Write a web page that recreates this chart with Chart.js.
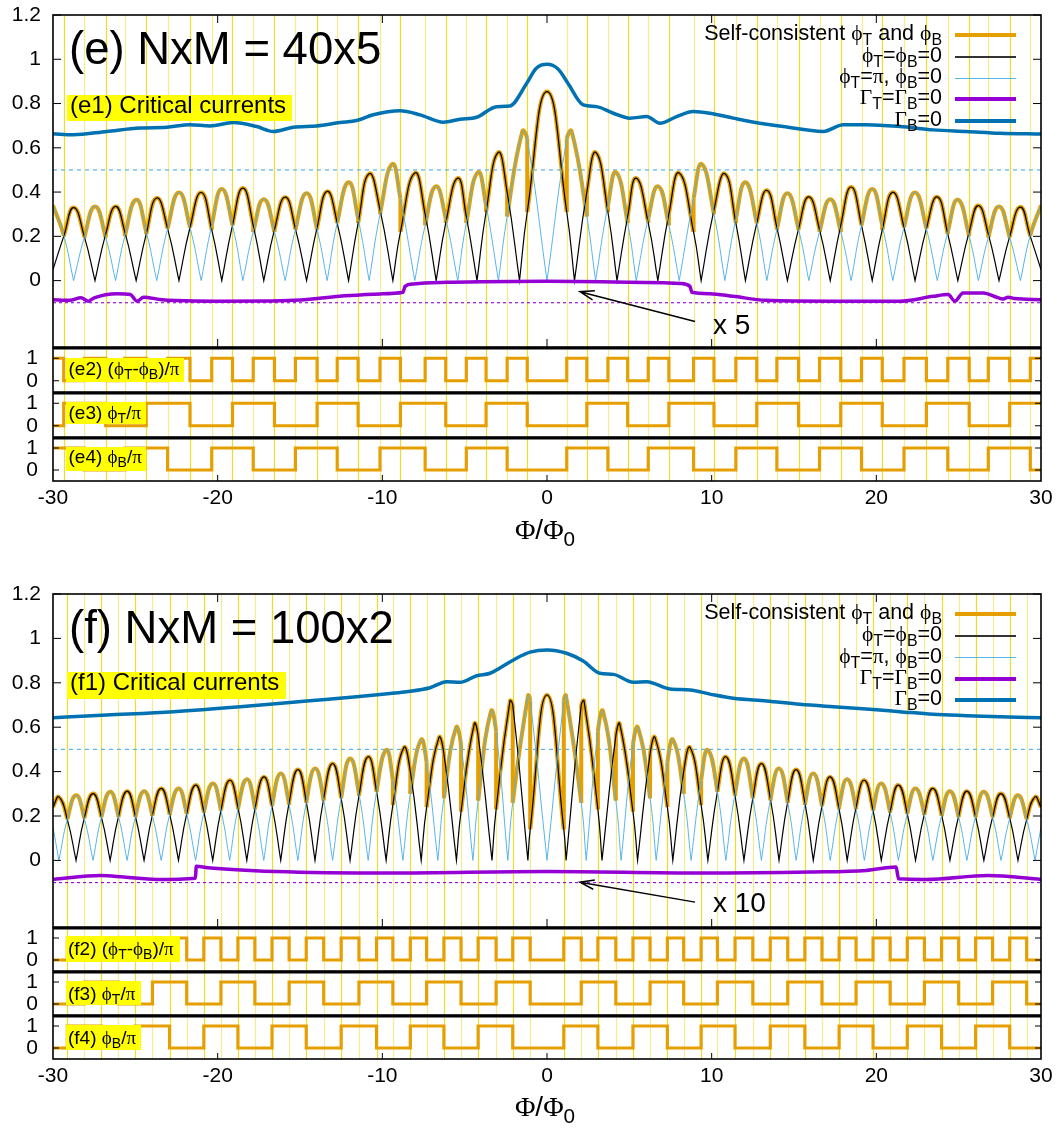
<!DOCTYPE html>
<html>
<head>
<meta charset="utf-8">
<script src="https://cdn.jsdelivr.net/npm/chart.js@4.4.1/dist/chart.umd.min.js"></script>
<style>
body { margin: 0; background: #fff; }
#fig { position: relative; width: 1058px; height: 1130px; overflow: hidden; font-family: "Liberation Sans", Arial, sans-serif; color: #000; }
canvas { position: absolute; left: 0; }
.t { position: absolute; white-space: nowrap; }
.hl { position: absolute; background: #ffff00; }
.g { font-family: "Liberation Serif", serif; }
sub { font-size: 0.74em; vertical-align: -0.32em; line-height: 0; }
.key { position: absolute; left: 955px; width: 61px; }
.lg { position: absolute; right: 116px; font-size: 21.5px; line-height: 21px; white-space: nowrap; text-align: right; }
.sl { position: absolute; white-space: nowrap; font-size: 19px; line-height: 19px; }
</style>
</head>
<body>
<div id="fig">
  <canvas id="e1" width="1058" height="350" style="top:0px"></canvas>
  <canvas id="e2" width="1058" height="45" style="top:347px"></canvas>
  <canvas id="e3" width="1058" height="45" style="top:392px"></canvas>
  <canvas id="e4" width="1058" height="90" style="top:437px"></canvas>
  <canvas id="f1" width="1058" height="354" style="top:576px"></canvas>
  <canvas id="f2" width="1058" height="44" style="top:927px"></canvas>
  <canvas id="f3" width="1058" height="44" style="top:971px"></canvas>
  <canvas id="f4" width="1058" height="90" style="top:1015px"></canvas>

  <!-- panel (e) texts -->
  <div class="t" style="left:69px;top:26px;font-size:45.5px;line-height:45.5px">(e) NxM = 40x5</div>
  <div class="hl" style="left:67px;top:95px;width:225px;height:25.7px"></div>
  <div class="t" style="left:70px;top:92.5px;font-size:24px;line-height:24px">(e1) Critical currents</div>

  <div class="lg" style="top:23px">Self-consistent <span class="g">ϕ</span><sub>T</sub> and <span class="g">ϕ</span><sub>B</sub></div>
  <div class="lg" style="top:44.5px"><span class="g">ϕ</span><sub>T</sub>=<span class="g">ϕ</span><sub>B</sub>=0</div>
  <div class="lg" style="top:66px"><span class="g">ϕ</span><sub>T</sub>=<span class="g">π</span>, <span class="g">ϕ</span><sub>B</sub>=0</div>
  <div class="lg" style="top:87.3px"><span class="g">Γ</span><sub>T</sub>=<span class="g">Γ</span><sub>B</sub>=0</div>
  <div class="lg" style="top:108.5px"><span class="g">Γ</span><sub>B</sub>=0</div>
  <div class="key" style="top:33px;height:4px;background:#e69f00"></div>
  <div class="key" style="top:56px;height:1.5px;background:#333"></div>
  <div class="key" style="top:77.5px;height:1.3px;background:#56b4e9"></div>
  <div class="key" style="top:97.3px;height:4px;background:#9400d3"></div>
  <div class="key" style="top:118.5px;height:4px;background:#0072b2"></div>

  <div class="t" style="left:713px;top:311px;font-size:28px;line-height:28px">x 5</div>

  <div class="hl" style="left:66px;top:357.7px;width:118px;height:24.6px"></div>
  <div class="sl" style="left:68.5px;top:358.9px">(e2) (<span class="g">ϕ</span><sub>T</sub>-<span class="g">ϕ</span><sub>B</sub>)/<span class="g">π</span></div>
  <div class="hl" style="left:66px;top:402.3px;width:80px;height:22px"></div>
  <div class="sl" style="left:68.5px;top:402.9px">(e3) <span class="g">ϕ</span><sub>T</sub>/<span class="g">π</span></div>
  <div class="hl" style="left:66px;top:446.7px;width:80px;height:24.3px"></div>
  <div class="sl" style="left:68.5px;top:447.2px">(e4) <span class="g">ϕ</span><sub>B</sub>/<span class="g">π</span></div>

  <div class="t" style="left:445px;width:200px;text-align:center;top:516px;font-size:28px;line-height:28px"><span class="g">Φ</span>/<span class="g">Φ</span><sub>0</sub></div>

  <!-- panel (f) texts -->
  <div class="t" style="left:69px;top:605px;font-size:45.5px;line-height:45.5px">(f) NxM = 100x2</div>
  <div class="hl" style="left:67px;top:671.7px;width:218.5px;height:27.3px"></div>
  <div class="t" style="left:70px;top:669.7px;font-size:24px;line-height:24px">(f1) Critical currents</div>

  <div class="lg" style="top:602.3px">Self-consistent <span class="g">ϕ</span><sub>T</sub> and <span class="g">ϕ</span><sub>B</sub></div>
  <div class="lg" style="top:624px"><span class="g">ϕ</span><sub>T</sub>=<span class="g">ϕ</span><sub>B</sub>=0</div>
  <div class="lg" style="top:645.7px"><span class="g">ϕ</span><sub>T</sub>=<span class="g">π</span>, <span class="g">ϕ</span><sub>B</sub>=0</div>
  <div class="lg" style="top:666.6px"><span class="g">Γ</span><sub>T</sub>=<span class="g">Γ</span><sub>B</sub>=0</div>
  <div class="lg" style="top:688px"><span class="g">Γ</span><sub>B</sub>=0</div>
  <div class="key" style="top:612.3px;height:4px;background:#e69f00"></div>
  <div class="key" style="top:635.3px;height:1.5px;background:#333"></div>
  <div class="key" style="top:657px;height:1.3px;background:#56b4e9"></div>
  <div class="key" style="top:676.6px;height:4px;background:#9400d3"></div>
  <div class="key" style="top:698px;height:4px;background:#0072b2"></div>

  <div class="t" style="left:713px;top:889px;font-size:28px;line-height:28px">x 10</div>

  <div class="hl" style="left:65.5px;top:935.7px;width:114px;height:26px"></div>
  <div class="sl" style="left:68px;top:938.9px">(f2) (<span class="g">ϕ</span><sub>T</sub>-<span class="g">ϕ</span><sub>B</sub>)/<span class="g">π</span></div>
  <div class="hl" style="left:65.5px;top:981px;width:75px;height:24px"></div>
  <div class="sl" style="left:68px;top:983.9px">(f3) <span class="g">ϕ</span><sub>T</sub>/<span class="g">π</span></div>
  <div class="hl" style="left:65.5px;top:1025px;width:75px;height:25px"></div>
  <div class="sl" style="left:68px;top:1028.2px">(f4) <span class="g">ϕ</span><sub>B</sub>/<span class="g">π</span></div>

  <div class="t" style="left:445px;width:200px;text-align:center;top:1093px;font-size:28px;line-height:28px"><span class="g">Φ</span>/<span class="g">Φ</span><sub>0</sub></div>
</div>

<script>
// ---------- panel (e) NxM = 40x5 ----------
// yellow guide lines = switching points of the self-consistent solution
const eBreaks = [-29.35,-28.1,-26.8,-25.64,-24.34,-23.04,-21.68,-20.36,-19.1,-17.84,-16.55,-15.28,-13.96,-12.74,-11.47,-10.14,-8.9,-7.4,-6.15,-4.9,-3.7,-2.42,-1.2,
                 1.2,2.42,3.7,4.9,6.15,7.4,8.9,10.14,11.47,12.74,13.96,15.28,16.55,17.84,19.1,20.36,21.68,23.04,24.34,25.64,26.8,28.1,29.35];
// step values on each interval between the yellow lines
const eDiff = [1,0,1,0,1,0,1,0,1,0,1,0,1,0,1,0,1,0,1,0,1,0,1,0,1,0,1,0,1,0,1,0,1,0,1,0,1,0,1,0,1,0,1,0,1,0,1];
const eTop  = [0,1,1,0,0,1,1,0,0,1,1,0,0,1,1,0,0,1,1,0,0,1,1,0,0,1,1,0,0,1,1,0,0,1,1,0,0,1,1,0,0,1,1,0,0,1,1];
const eBot  = [1,1,0,0,1,1,0,0,1,1,0,0,1,1,0,0,1,1,0,0,1,1,0,0,1,1,0,0,1,1,0,0,1,1,0,0,1,1,0,0,1,1,0,0,1,1,0];

// phiT = phiB = 0 (black)
const eBlackZeros = [-27.45,-24.95,-22.35,-19.75,-17.2,-14.6,-12.05,-9.36,-6.73,-4.25,-1.67,1.67,4.25,6.73,9.36,12.05,14.6,17.2,19.75,22.35,24.95,27.45];
const eBlackPeakX = [-28.75,-26.2,-23.7,-21.0,-18.47,-15.9,-13.35,-10.8,-8.03,-5.42,-2.97,0,2.97,5.42,8.03,10.8,13.35,15.9,18.47,21.0,23.7,26.2,28.75];
const eBlackPeakY = [0.33,0.335,0.373,0.398,0.418,0.377,0.403,0.483,0.486,0.463,0.579,0.854,0.579,0.463,0.486,0.483,0.408,0.378,0.423,0.399,0.378,0.339,0.332];
const eBlackAtBreaks = [0.20,0.20,0.21,0.22,0.21,0.235,0.24,0.23,0.25,0.25,0.23,0.235,0.24,0.26,0.26,0.32,0.22,0.30,0.26,0.29,0.31,0.40,0.31,
                        0.31,0.40,0.31,0.29,0.26,0.30,0.22,0.32,0.26,0.26,0.24,0.235,0.23,0.25,0.25,0.23,0.24,0.235,0.21,0.22,0.21,0.20,0.20];
const eBlackEdge = 0.05;
// phiT = pi, phiB = 0 (cyan)
const eCyanZeros = [-28.75,-26.2,-23.7,-21.0,-18.47,-15.9,-13.35,-10.8,-8.03,-5.42,-2.95,0,2.95,5.42,8.03,10.8,13.35,15.9,18.47,21.0,23.7,26.2,28.75];
const eCyanPeakX = [-27.45,-24.95,-22.35,-19.75,-17.2,-14.6,-12.05,-9.4,-6.75,-4.2,-1.5,1.5,4.2,6.75,9.4,12.05,14.6,17.2,19.75,22.35,24.95,27.45];
const eCyanPeakY = [0.335,0.365,0.398,0.414,0.368,0.395,0.444,0.526,0.426,0.489,0.674,0.674,0.489,0.426,0.526,0.444,0.395,0.368,0.414,0.398,0.365,0.335];
const eCyanAtBreaks = [0.205,0.195,0.195,0.20,0.22,0.235,0.24,0.25,0.25,0.22,0.22,0.23,0.23,0.26,0.28,0.30,0.37,0.25,0.28,0.26,0.34,0.29,0.64,
                       0.64,0.29,0.34,0.26,0.28,0.25,0.37,0.30,0.28,0.26,0.23,0.23,0.22,0.22,0.25,0.25,0.24,0.235,0.22,0.20,0.195,0.195,0.205];
const eCyanEdge = 0.34;
// Gamma_B = 0 (blue)
const eBlueX = [-30,-28.76,-26.73,-24.71,-23.09,-21.68,-20.47,-19.05,-17.63,-16.62,-15.41,-13.99,-12.57,-11.56,-10.55,-8.93,-7.71,-6.29,-5.28,-4.27,-3.06,-2.25,-1.23,-0.65,0,
                0.67,1.27,2.2,3.01,4.03,5.04,6.05,6.86,7.87,8.89,9.9,11.31,12.32,14.35,16.78,17.99,19.41,21.43,23.45,25.48,27.51,30];
const eBlueY = [0.663,0.659,0.674,0.689,0.693,0.704,0.699,0.714,0.696,0.674,0.693,0.699,0.714,0.723,0.749,0.767,0.749,0.716,0.729,0.738,0.786,0.789,0.892,0.959,0.977,
                0.956,0.892,0.794,0.786,0.756,0.734,0.741,0.711,0.741,0.764,0.756,0.734,0.719,0.696,0.674,0.704,0.704,0.696,0.681,0.674,0.666,0.662];
// Gamma_T = Gamma_B = 0 (purple, x5)
const ePurpleX = [-30,-29,-28.3,-27.86,-27.5,-26.1,-25.3,-24.9,-24.5,-23.5,-22.5,-20,-17,-15,-12.6,-10.1,-8.75,-8.62,-8.1,-6.1,-4,0,4,6,8.1,8.68,8.8,9.9,11.3,13.3,17.4,21.4,23.45,24.36,24.77,25.27,26.5,27.3,27.7,28.0,28.4,30];
const ePurpleY = [-0.086,-0.089,-0.078,-0.093,-0.078,-0.059,-0.063,-0.093,-0.075,-0.085,-0.09,-0.093,-0.092,-0.088,-0.071,-0.06,-0.053,-0.026,-0.015,-0.008,-0.005,-0.003,-0.006,-0.009,-0.0135,-0.026,-0.053,-0.059,-0.071,-0.089,-0.093,-0.093,-0.071,-0.063,-0.093,-0.056,-0.056,-0.075,-0.083,-0.075,-0.081,-0.086];

// ---------- panel (f) NxM = 100x2 ----------
const fBreaks = [-29.13,-28.1,-27.06,-26.03,-25.0,-23.96,-22.92,-21.88,-20.84,-19.8,-18.77,-17.74,-16.7,-15.66,-14.62,-13.56,-12.5,-11.42,-10.35,-9.36,-8.3,-7.31,-6.26,-5.22,-4.18,-3.09,-2.08,-1.02,
                 1.02,2.08,3.09,4.18,5.22,6.26,7.31,8.3,9.36,10.35,11.42,12.5,13.56,14.62,15.66,16.7,17.74,18.77,19.8,20.84,21.88,22.92,23.96,25.0,26.03,27.06,28.1,29.13];
const fDiff = [0,1,0,1,0,1,0,1,0,1,0,1,0,1,0,1,0,1,0,1,0,1,0,1,0,1,0,1,0,1,0,1,0,1,0,1,0,1,0,1,0,1,0,1,0,1,0,1,0,1,0,1,0,1,0,1,0];
const fTop  = [0,0,1,1,0,0,1,1,0,0,1,1,0,0,1,1,0,0,1,1,0,0,1,1,0,0,1,1,0,0,1,1,0,0,1,1,0,0,1,1,0,0,1,1,0,0,1,1,0,0,1,1,0,0,1,1,0];
const fBot  = [0,1,1,0,0,1,1,0,0,1,1,0,0,1,1,0,0,1,1,0,0,1,1,0,0,1,1,0,0,1,1,0,0,1,1,0,0,1,1,0,0,1,1,0,0,1,1,0,0,1,1,0,0,1,1,0,0];

const fBlackZeros = [-28.6,-26.53,-24.47,-22.38,-20.3,-18.23,-16.17,-14.09,-11.96,-9.77,-7.64,-5.5,-3.34,-1.16,1.16,3.34,5.5,7.64,9.77,11.96,14.09,16.17,18.23,20.3,22.38,24.47,26.53,28.6];
const fBlackPeakX = [-29.64,-27.57,-25.5,-23.43,-21.34,-19.27,-17.2,-15.13,-13.02,-10.86,-8.7,-6.57,-4.42,-2.25,0,2.25,4.42,6.57,8.7,10.86,13.02,15.13,17.2,19.27,21.34,23.43,25.5,27.57,29.64];
const fBlackPeakY = [0.286,0.301,0.312,0.324,0.339,0.361,0.376,0.409,0.436,0.467,0.507,0.552,0.614,0.718,0.745,0.718,0.614,0.552,0.507,0.467,0.436,0.409,0.376,0.361,0.339,0.324,0.312,0.301,0.286];
const fBlackAtBreaks = [0.185,0.19,0.195,0.195,0.20,0.205,0.21,0.21,0.22,0.225,0.24,0.23,0.245,0.26,0.265,0.28,0.28,0.29,0.31,0.25,0.40,0.24,0.48,0.22,0.56,0.23,0.70,0.14,
                        0.14,0.70,0.23,0.56,0.22,0.48,0.24,0.40,0.25,0.31,0.29,0.28,0.28,0.265,0.26,0.245,0.23,0.24,0.225,0.22,0.21,0.21,0.205,0.20,0.195,0.195,0.19,0.185];
const fBlackEdge = 0.24;
const fCyanZeros = [-29.64,-27.57,-25.5,-23.43,-21.34,-19.27,-17.2,-15.13,-13.02,-10.86,-8.75,-6.63,-4.5,-2.38,0,2.38,4.5,6.63,8.75,10.86,13.02,15.13,17.2,19.27,21.34,23.43,25.5,27.57,29.64];
const fCyanPeakX = [-28.6,-26.53,-24.47,-22.38,-20.3,-18.23,-16.17,-14.09,-11.96,-9.77,-7.66,-5.53,-3.41,-1.15,1.15,3.41,5.53,7.66,9.77,11.96,14.09,16.17,18.23,20.3,22.38,24.47,26.53,28.6];
const fCyanPeakY = [0.293,0.309,0.312,0.324,0.346,0.366,0.391,0.414,0.459,0.497,0.542,0.597,0.67,0.742,0.742,0.67,0.597,0.542,0.497,0.459,0.414,0.391,0.366,0.346,0.324,0.312,0.309,0.293];
const fCyanAtBreaks = [0.185,0.19,0.195,0.20,0.195,0.20,0.205,0.21,0.215,0.225,0.23,0.24,0.245,0.25,0.26,0.27,0.28,0.30,0.31,0.36,0.30,0.44,0.28,0.52,0.27,0.58,0.26,0.72,
                       0.72,0.26,0.58,0.27,0.52,0.28,0.44,0.30,0.36,0.31,0.30,0.28,0.27,0.26,0.25,0.245,0.24,0.23,0.225,0.215,0.21,0.205,0.20,0.195,0.20,0.195,0.19,0.185];
const fCyanEdge = 0.15;
const fBlueX = [-30,-26.73,-22.68,-18.63,-14.59,-11.56,-9.54,-8.52,-7.1,-6.09,-5.28,-4.27,-3.46,-2.04,-1.03,0,1.19,2.2,3.21,4.03,5.24,6.05,7.47,8.68,9.9,11.31,13.33,15.35,17.38,19.4,21.43,23.45,25.47,27.5,30];
const fBlueY = [0.643,0.655,0.670,0.692,0.718,0.737,0.752,0.76,0.778,0.805,0.802,0.832,0.843,0.903,0.938,0.948,0.933,0.898,0.843,0.838,0.802,0.805,0.772,0.768,0.749,0.73,0.718,0.703,0.692,0.682,0.67,0.658,0.652,0.647,0.643];
const fPurpleX = [-30,-27.1,-25.7,-23.7,-21.35,-21.3,-20.6,-16.5,-9.5,0,9.3,16,19.4,21.2,21.35,23,26.8,30];
const fPurpleY = [-0.086,-0.068,-0.075,-0.086,-0.08,-0.026,-0.033,-0.05,-0.057,-0.05,-0.057,-0.052,-0.045,-0.03,-0.083,-0.086,-0.068,-0.086];

// shared axis ticks
const mainYTicks = [0, 0.2, 0.4, 0.6, 0.8, 1, 1.2];
const stepYTicks = [0, 1];
const xInnerTicks = [-20, -10, 0, 10, 20];

const ORANGE = '#e69f00', CYAN = '#56b4e9', PURPLE = '#9400d3', BLUE = '#0072b2';
const TICK_FONT = { family: 'Liberation Sans', size: 21 };

// zeros become cusps (point repeated), peaks and break values stay smooth
function buildCurve(zeros, peakX, peakY, breaks, atBreaks, edge) {
  const pts = [{ x: -30, y: edge }, { x: 30, y: edge }];
  zeros.forEach(x => pts.push({ x: x, y: 0, cusp: true }));
  peakX.forEach((x, i) => pts.push({ x: x, y: peakY[i] }));
  breaks.forEach((x, i) => pts.push({ x: x, y: atBreaks[i] }));
  pts.sort((a, b) => a.x - b.x);
  const out = [];
  pts.forEach(p => {
    out.push({ x: p.x, y: p.y });
    if (p.cusp) out.push({ x: p.x, y: p.y });
  });
  return out;
}

function buildJumps(breaks, a, b) {
  const out = [];
  breaks.forEach((x, i) => { out.push({ x: x, y: a[i] }, { x: x, y: b[i] }, { x: x, y: null }); });
  return out;
}

function buildSteps(breaks, states) {
  const out = [{ x: -30, y: states[0] }];
  breaks.forEach((x, i) => out.push({ x: x, y: states[i + 1] }));
  out.push({ x: 30, y: states[states.length - 1] });
  return out;
}

function pairs(xs, ys) { return xs.map((x, i) => ({ x: x, y: ys[i] })); }

function stateAt(breaks, states, xm) {
  let k = 0;
  while (k < breaks.length && breaks[k] < xm) k++;
  return states[k];
}

// orange drawn on top of one reference curve, only where that branch is selected
function orangeOver(points, breaks, states, want) {
  const data = points.map(p => ({ x: p.x, y: p.y }));
  return {
    data: data, borderColor: ORANGE, borderWidth: 4, tension: 0.5, order: 8,
    segment: {
      borderColor: c => {
        const xm = (data[c.p0DataIndex].x + data[c.p1DataIndex].x) / 2;
        return stateAt(breaks, states, xm) === want ? ORANGE : 'rgba(0,0,0,0)';
      }
    }
  };
}

function vlinesPlugin(breaks) {
  return {
    id: 'vlines',
    beforeDatasetsDraw(chart) {
      const { ctx, chartArea: a, scales: { x } } = chart;
      ctx.save();
      ctx.lineWidth = 1.2;
      breaks.forEach((b, i) => {
        const px = Math.round(x.getPixelForValue(b)) + 0.5;
        ctx.strokeStyle = i % 2 ? 'rgba(240,222,70,0.6)' : 'rgba(238,216,20,0.9)';
        ctx.beginPath(); ctx.moveTo(px, a.top); ctx.lineTo(px, a.bottom); ctx.stroke();
      });
      ctx.restore();
    }
  };
}

function framePlugin(o) {
  return {
    id: 'frame',
    afterDatasetsDraw(chart) {
      const { ctx, chartArea: a, scales: { x, y } } = chart;
      const seg = (x0, y0, x1, y1) => { ctx.beginPath(); ctx.moveTo(x0, y0); ctx.lineTo(x1, y1); ctx.stroke(); };
      ctx.save();
      ctx.strokeStyle = '#000';
      ctx.lineWidth = 1;
      (o.yTicks || []).forEach(v => {
        const py = y.getPixelForValue(v);
        seg(a.left, py, a.left + o.len, py);
        seg(a.right, py, a.right - o.len, py);
      });
      (o.xTop || []).forEach(v => { const px = x.getPixelForValue(v); seg(px, a.top, px, a.top + o.len); });
      (o.xBottom || []).forEach(v => { const px = x.getPixelForValue(v); seg(px, a.bottom, px, a.bottom - o.len); });
      ctx.lineWidth = 1.6;
      ctx.strokeRect(a.left, a.top, a.right - a.left, a.bottom - a.top);
      if (o.thickTop) { ctx.lineWidth = 3; seg(a.left, a.top + 1, a.right, a.top + 1); }
      ctx.restore();
    }
  };
}

function arrowPlugin(from, to) {
  return {
    id: 'arrow',
    afterDatasetsDraw(chart) {
      const { ctx, scales: { x, y } } = chart;
      const x0 = x.getPixelForValue(from[0]), y0 = y.getPixelForValue(from[1]);
      const x1 = x.getPixelForValue(to[0]), y1 = y.getPixelForValue(to[1]);
      const ang = Math.atan2(y0 - y1, x0 - x1), h = 15, sp = 0.32;
      ctx.save();
      ctx.strokeStyle = '#000'; ctx.lineWidth = 1.5;
      ctx.beginPath();
      ctx.moveTo(x0, y0); ctx.lineTo(x1, y1);
      ctx.moveTo(x1 + h * Math.cos(ang + sp), y1 + h * Math.sin(ang + sp));
      ctx.lineTo(x1, y1);
      ctx.lineTo(x1 + h * Math.cos(ang - sp), y1 + h * Math.sin(ang - sp));
      ctx.stroke();
      ctx.restore();
    }
  };
}

// y axis of fixed width, no automatic label padding (keeps plot areas aligned)
function yAxis(min, max, ticks, fmt, pad) {
  return {
    type: 'linear', min: min, max: max,
    afterFit: s => { s.width = 53; s.paddingTop = 0; s.paddingBottom = 0; },
    afterBuildTicks: s => { s.ticks = ticks.map(v => ({ value: v })); },
    grid: { display: false, drawTicks: false }, border: { display: false },
    ticks: { padding: pad, color: '#000', font: TICK_FONT, autoSkip: false, callback: fmt }
  };
}

function mainChart(id, padTop, d) {
  const black = buildCurve(d.blackZeros, d.blackPeakX, d.blackPeakY, d.breaks, d.blackAtBreaks, d.blackEdge);
  const cyan = buildCurve(d.cyanZeros, d.cyanPeakX, d.cyanPeakY, d.breaks, d.cyanAtBreaks, d.cyanEdge);
  new Chart(document.getElementById(id), {
    type: 'line',
    data: {
      datasets: [
        { data: pairs(d.blueX, d.blueY), borderColor: BLUE, borderWidth: 3.5, cubicInterpolationMode: 'monotone', order: 1 },
        { data: pairs(d.purpleX, d.purpleY), borderColor: PURPLE, borderWidth: 3.5, cubicInterpolationMode: 'monotone', order: 2 },
        { data: cyan, borderColor: CYAN, borderWidth: 1, tension: 0.5, order: 3 },
        { data: black.map(p => ({ x: p.x, y: p.y })), borderColor: '#000', borderWidth: 1.2, tension: 0.5, order: 4 },
        orangeOver(black, d.breaks, d.diff, 0),
        orangeOver(cyan, d.breaks, d.diff, 1),
        { data: buildJumps(d.breaks, d.blackAtBreaks, d.cyanAtBreaks), borderColor: ORANGE, borderWidth: 4, tension: 0, order: 8 },
        { data: [{ x: -30, y: 0.5 }, { x: 30, y: 0.5 }], borderColor: CYAN, borderWidth: 1.2, borderDash: [4, 4], order: 10 },
        { data: [{ x: -30, y: -0.1 }, { x: 30, y: -0.1 }], borderColor: PURPLE, borderWidth: 1.1, borderDash: [3, 3], order: 10 }
      ]
    },
    options: {
      responsive: false, animation: false, devicePixelRatio: 1, events: [],
      layout: { padding: { top: padTop, bottom: 3, left: 0, right: 17 } },
      elements: { point: { radius: 0 } },
      plugins: { legend: { display: false }, tooltip: { enabled: false } },
      scales: {
        x: { type: 'linear', min: -30, max: 30, display: false },
        y: yAxis(-0.3, 1.2, mainYTicks, v => String(+Number(v).toFixed(1)), 12)
      }
    },
    plugins: [vlinesPlugin(d.breaks), framePlugin({ yTicks: mainYTicks, xTop: xInnerTicks, xBottom: xInnerTicks, len: 8 }), arrowPlugin(d.arrowFrom, d.arrowTo)]
  });
}

function stepChart(id, breaks, states, bottomAxis) {
  new Chart(document.getElementById(id), {
    type: 'line',
    data: { datasets: [{ data: buildSteps(breaks, states), borderColor: ORANGE, borderWidth: 3.2, stepped: true }] },
    options: {
      responsive: false, animation: false, devicePixelRatio: 1, events: [],
      layout: { padding: { top: 0, bottom: 0, left: 0, right: 17 } },
      elements: { point: { radius: 0 } },
      plugins: { legend: { display: false }, tooltip: { enabled: false } },
      scales: {
        x: {
          type: 'linear', min: -30, max: 30, display: bottomAxis,
          afterFit: s => { if (bottomAxis) s.height = 46; s.paddingLeft = 0; s.paddingRight = 0; },
          grid: { display: false, drawTicks: false }, border: { display: false },
          ticks: { stepSize: 10, padding: 5, maxRotation: 0, autoSkip: false, color: '#000', font: TICK_FONT }
        },
        y: yAxis(-0.5, 1.5, stepYTicks, v => String(v), 15)
      }
    },
    plugins: [vlinesPlugin(breaks), framePlugin({ yTicks: stepYTicks, xBottom: bottomAxis ? xInnerTicks : [], len: 6, thickTop: true })]
  });
}

mainChart('e1', 15, {
  breaks: eBreaks, diff: eDiff,
  blackZeros: eBlackZeros, blackPeakX: eBlackPeakX, blackPeakY: eBlackPeakY, blackAtBreaks: eBlackAtBreaks, blackEdge: eBlackEdge,
  cyanZeros: eCyanZeros, cyanPeakX: eCyanPeakX, cyanPeakY: eCyanPeakY, cyanAtBreaks: eCyanAtBreaks, cyanEdge: eCyanEdge,
  blueX: eBlueX, blueY: eBlueY, purpleX: ePurpleX, purpleY: ePurpleY,
  arrowFrom: [8.99, -0.185], arrowTo: [2.0, -0.05]
});
stepChart('e2', eBreaks, eDiff, false);
stepChart('e3', eBreaks, eTop, false);
stepChart('e4', eBreaks, eBot, true);

mainChart('f1', 18, {
  breaks: fBreaks, diff: fDiff,
  blackZeros: fBlackZeros, blackPeakX: fBlackPeakX, blackPeakY: fBlackPeakY, blackAtBreaks: fBlackAtBreaks, blackEdge: fBlackEdge,
  cyanZeros: fCyanZeros, cyanPeakX: fCyanPeakX, cyanPeakY: fCyanPeakY, cyanAtBreaks: fCyanAtBreaks, cyanEdge: fCyanEdge,
  blueX: fBlueX, blueY: fBlueY, purpleX: fPurpleX, purpleY: fPurpleY,
  arrowFrom: [8.99, -0.188], arrowTo: [2.0, -0.098]
});
stepChart('f2', fBreaks, fDiff, false);
stepChart('f3', fBreaks, fTop, false);
stepChart('f4', fBreaks, fBot, true);
</script>
</body>
</html>
